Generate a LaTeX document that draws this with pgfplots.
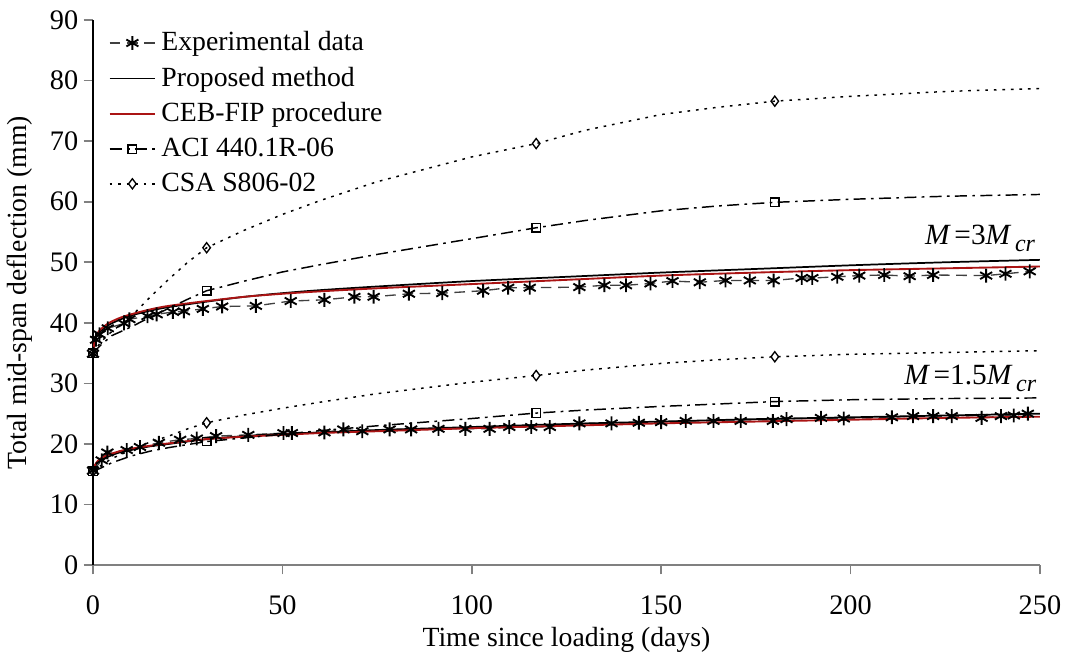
\documentclass[border=0pt]{standalone}
\usepackage{fontspec}
\setmainfont{Liberation Serif}
\usepackage{pgfplots}
\pgfplotsset{compat=1.18}
\definecolor{cebred}{RGB}{170,20,20}
\pgfplotsset{midmark legend/.style={legend image code/.code={%
  \draw[##1, mark indices={2}] plot coordinates {(0cm,0cm) (0.3cm,0cm) (0.6cm,0cm)};}}}
\begin{document}
\begin{tikzpicture}
\begin{axis}[
  scale only axis,
  width=355.1pt, height=204.4pt,
  xmin=0, xmax=250, ymin=0, ymax=90,
  xtick={0,50,100,150,200,250},
  ytick={0,10,...,90},
  axis x line*=bottom, axis y line*=left,
  x axis line style={-, draw=gray, line width=0.7pt},
  y axis line style={-, draw=black, line width=0.6pt},
  tick align=outside,
  major tick length=3.5pt,
  tick style={gray, line width=0.6pt},
  /pgf/number format/assume math mode=true,
  tick label style={font=\fontsize{10.6}{12}\selectfont},
  xticklabel style={yshift=-4.5pt},
  yticklabel style={xshift=1.5pt},
  label style={font=\fontsize{10.4}{12}\selectfont},
  xlabel={Time since loading (days)},
  ylabel={Total mid-span deflection (mm)},
  xlabel style={at={(axis description cs:0.5,0)}, anchor=center, yshift=-28pt},
  ylabel style={at={(axis description cs:0,0.5)}, anchor=center, yshift=27.5pt},
  legend style={at={(axis description cs:0.016,0.99)}, anchor=north west, draw=none, fill=none,
    font=\fontsize{10.4}{12}\selectfont, row sep=0.6pt, inner sep=0pt},
  legend cell align=left,
  clip=false,
]
% Experimental upper
\addplot[black!75, line width=0.5pt, dash pattern=on 4pt off 2.5pt,
  mark=asterisk, mark size=2.6pt, mark options={solid, black, line width=0.7pt}, midmark legend] coordinates {
(0,34.9)(0.8,37.2)(1.7,38.1)(3.9,39.1)(8.2,39.9)(9.6,40.6)(14.4,41.1)(16.8,41.4)(21.1,41.8)(24.0,41.9)
(29.0,42.3)(34.1,42.7)(43.0,42.8)(52.2,43.6)(61.1,43.8)(69.0,44.3)(74.1,44.3)(83.4,44.8)(92.2,44.9)
(103,45.3)(109.6,45.8)(115.3,45.8)(128.4,45.9)(135,46.2)(140.7,46.2)(147.2,46.5)(153,46.9)(160.2,46.7)
(167,47.0)(173.4,47.0)(179.7,47.0)(187.1,47.4)(189.9,47.4)(196.5,47.6)(202.3,47.8)(208.9,47.9)
(215.6,47.7)(221.8,47.9)(235.8,47.8)(240.9,48.1)(247.3,48.5)};
\addlegendentry{Experimental data}
% Proposed upper
\addplot[black, line width=0.65pt, smooth] coordinates {
(0,35)(0.5,37)(1,37.8)(2,38.6)(4,39.6)(7,40.5)(10,41.2)(15,42)(20,42.6)(30,43.5)(40,44.3)(50,44.9)
(60,45.4)(75,46.0)(100,46.9)(125,47.6)(150,48.3)(175,48.9)(200,49.5)(225,50.0)(250,50.4)};
\addlegendentry{Proposed method}
% CEB-FIP upper
\addplot[cebred, line width=0.7pt, smooth] coordinates {
(0,35)(0.5,37.3)(1,38.1)(2,38.9)(4,39.9)(7,40.8)(10,41.4)(15,42.2)(20,42.8)(30,43.6)(40,44.3)(50,44.8)
(60,45.2)(75,45.7)(100,46.4)(125,47.1)(150,47.8)(175,48.3)(200,48.7)(225,49.0)(250,49.3)};
\addlegendentry{CEB-FIP procedure}
% ACI upper
\addplot[black, line width=0.55pt, dash pattern=on 4.5pt off 2pt on 1pt off 2pt,
  mark=square, mark size=1.6pt, mark options={solid, fill=white, line width=0.5pt},
  mark indices={1,8,14,18}, midmark legend] coordinates {
(0,35)(2,36.3)(5,37.9)(10,39.3)(15,40.9)(20,42.4)(25,43.9)(30,45.3)(40,46.9)(50,48.4)(60,49.6)
(75,51.3)(100,53.9)(117,55.7)(130,56.9)(150,58.5)(165,59.3)(180,59.9)(200,60.4)(225,60.9)(250,61.2)};
\addlegendentry{ACI 440.1R-06}
% CSA upper
\addplot[black, line width=0.55pt, dash pattern=on 1pt off 2.2pt,
  mark=diamond, mark size=1.9pt, mark options={solid, fill=white, line width=0.5pt},
  mark indices={1,8,14,18}, midmark legend] coordinates {
(0,35)(2,36.8)(5,38.6)(10,41.0)(15,44.2)(20,47.2)(25,50.0)(30,52.4)(40,55.3)(50,57.9)(60,60.2)
(75,63.3)(100,67.4)(117,69.6)(130,71.8)(150,74.4)(165,75.6)(180,76.6)(200,77.4)(225,78.2)(250,78.7)};
\addlegendentry{CSA S806-02}
% ----- lower group
\addplot[forget plot, black!75, line width=0.5pt, dash pattern=on 4pt off 2.5pt,
  mark=asterisk, mark size=2.6pt, mark options={solid, black, line width=0.7pt}] coordinates {
(0,15.6)(2.3,17.3)(3.8,18.6)(8.9,19.0)(12.4,19.5)(17.4,20.2)(23,20.7)(27.4,20.9)(32.5,21.3)(41,21.5)
(50.3,21.8)(52.5,21.8)(61.1,21.9)(66.1,22.4)(71.1,22.1)(78.3,22.4)(84,22.4)(91.2,22.5)(98.3,22.5)
(104.7,22.5)(109.9,22.8)(115.7,22.8)(120.6,22.8)(128.4,23.4)(136.9,23.4)(144.1,23.5)(150,23.6)
(156.5,23.8)(163.8,23.8)(171,23.8)(179.5,23.8)(183.1,24.1)(192.2,24.3)(198.2,24.2)(210.9,24.4)
(216.5,24.6)(221.8,24.6)(226.7,24.6)(234.6,24.3)(239.7,24.6)(243.1,24.7)(246.8,25.0)};
\addplot[forget plot, black, line width=0.65pt, smooth] coordinates {
(0,15.5)(0.5,16.3)(1,16.8)(2,17.3)(4,17.9)(7,18.6)(10,19.0)(15,19.6)(20,20.0)(30,20.8)(40,21.3)(50,21.7)
(60,21.9)(75,22.3)(100,22.8)(125,23.3)(150,23.7)(175,24.1)(200,24.4)(225,24.7)(250,25.0)};
\addplot[forget plot, cebred, line width=0.7pt, smooth] coordinates {
(0,15.5)(0.5,16.5)(1,17.0)(2,17.6)(4,18.2)(7,18.8)(10,19.2)(15,19.7)(20,20.1)(30,20.8)(40,21.2)(50,21.5)
(60,21.8)(75,22.1)(100,22.6)(125,23.0)(150,23.4)(175,23.7)(200,24.0)(225,24.3)(250,24.5)};
\addplot[forget plot, black, line width=0.55pt, dash pattern=on 4.5pt off 2pt on 1pt off 2pt,
  mark=square, mark size=1.6pt, mark options={solid, fill=white, line width=0.5pt},
  mark indices={1,8,14,18}] coordinates {
(0,15.5)(2,16.0)(5,16.9)(10,18.0)(15,18.8)(20,19.4)(25,19.9)(30,20.4)(40,21.0)(50,21.6)(60,22.2)
(75,23.0)(100,24.2)(117,25.1)(130,25.6)(150,26.2)(165,26.6)(180,27.0)(200,27.3)(225,27.5)(250,27.6)};
\addplot[forget plot, black, line width=0.55pt, dash pattern=on 1pt off 2.2pt,
  mark=diamond, mark size=1.9pt, mark options={solid, fill=white, line width=0.5pt},
  mark indices={1,8,14,18}] coordinates {
(0,15.5)(2,16.4)(5,17.6)(10,19.0)(15,20.3)(20,21.3)(25,22.5)(30,23.5)(40,24.8)(50,25.9)(60,26.9)
(75,28.3)(100,30.2)(117,31.3)(130,32.2)(150,33.3)(165,33.9)(180,34.4)(200,34.8)(225,35.1)(250,35.4)};
\node[font=\fontsize{11}{13}\selectfont] at (axis cs:234.2,53.9) {\itshape M\,\upshape =3\itshape M\,\raisebox{-0.5ex}{\fontsize{9}{10}\selectfont cr}};
\node[font=\fontsize{11}{13}\selectfont] at (axis cs:231.6,30.8) {\itshape M\,\upshape =1.5\itshape M\,\raisebox{-0.5ex}{\fontsize{9}{10}\selectfont cr}};
\end{axis}
\pgfresetboundingbox
\path[use as bounding box] (-34.875pt,-35.25pt) rectangle (364.5pt,211.9pt);
\end{tikzpicture}
\end{document}
